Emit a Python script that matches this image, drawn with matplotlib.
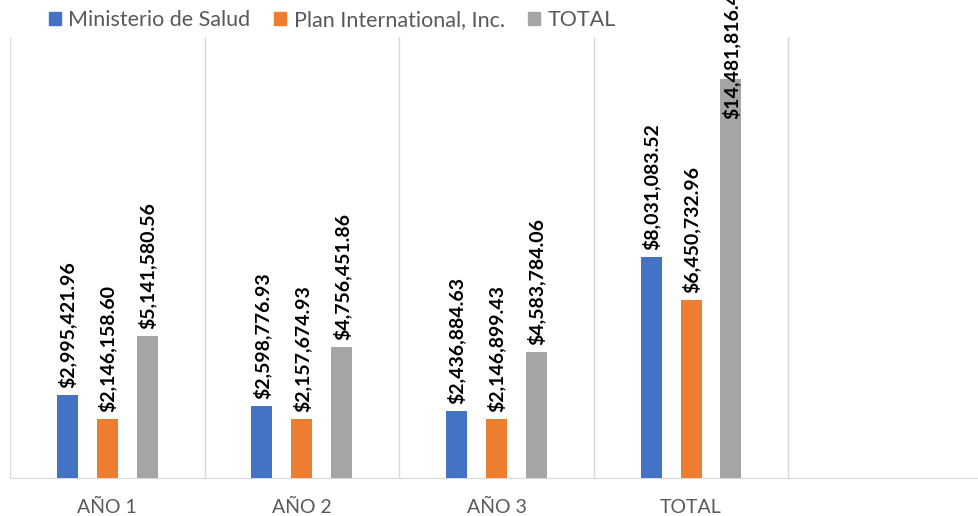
import matplotlib.pyplot as plt
from matplotlib.patches import Patch
import numpy as np

# Data
categories = ["AÑO 1", "AÑO 2", "AÑO 3", "TOTAL", ""]
series_names = ["Ministerio de Salud", "Plan International, Inc.", "TOTAL"]
ministerio = [2995421.96, 2598776.93, 2436884.63, 8031083.52]
plan = [2146158.60, 2157674.93, 2146899.43, 6450732.96]
total = [5141580.56, 4756451.86, 4583784.06, 14481816.48]
colors = ["#4472C4", "#ED7D31", "#A5A5A5"]

plt.rcParams['font.family'] = ['Lato', 'DejaVu Sans']

fig = plt.figure(figsize=(9.79, 5.16), dpi=100)
W, H = 979, 516
# plot area in pixels: left 10, top 37, bottom 478, right beyond image edge
ax = fig.add_axes([10 / W, (H - 478) / H, 1 - 10 / W, (478 - 37) / H])

ymax = 16e6
x = np.arange(len(ministerio))
width = 0.108
offset = 0.205
for i, (vals, col) in enumerate(zip([ministerio, plan, total], colors)):
    pos = x + (i - 1) * offset
    ax.bar(pos, vals, width=width, color=col, zorder=3)
    for p, v in zip(pos, vals):
        # the tallest label does not fit above its bar, so it sits over the bar top
        dy = 5 if v < 0.85 * ymax else -29
        ax.annotate(f"${v:,.2f}", (p, v), xytext=(0, dy), textcoords="offset points",
                    rotation=90, ha="center", va="bottom", fontsize=14,
                    fontweight="bold", color="black", zorder=4)

ax.set_xlim(-0.5, 4.48)
ax.set_ylim(0, ymax)
ax.set_yticks([])
ax.set_xticks(np.arange(len(categories)))
ax.set_xticklabels(categories, color="#595959", fontsize=14)
ax.tick_params(axis="x", length=0, pad=15)
# vertical separators between categories
for b in np.arange(-0.5, 4.5, 1.0):
    ax.axvline(b, color="#D9D9D9", lw=1, zorder=1)
for s in ["top", "right", "left"]:
    ax.spines[s].set_visible(False)
ax.spines["bottom"].set_color("#D9D9D9")

handles = [Patch(color=c) for c in colors]
fig.legend(handles, series_names, loc="center left", bbox_to_anchor=(49 / W, 1 - 20 / H),
           ncol=3, frameon=False, fontsize=15.5, labelcolor="#595959",
           borderpad=0, borderaxespad=0,
           handlelength=0.55, handleheight=0.55, handletextpad=0.35, columnspacing=1.1)

fig.savefig("out.png", dpi=100)
